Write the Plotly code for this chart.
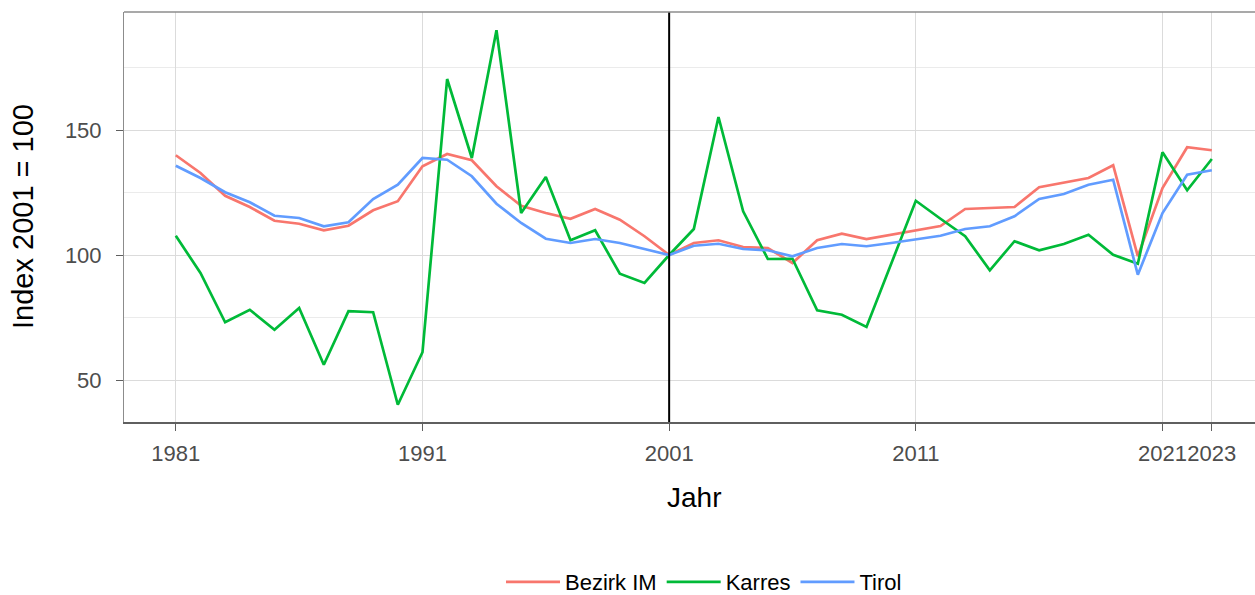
import plotly.graph_objects as go

years = list(range(1981, 2024))

bezirk_im = [139.9, 132.8, 123.7, 119.2, 113.7, 112.5, 109.9, 111.7, 117.9, 121.5,
             135.5, 140.4, 137.9, 127.5, 119.7, 116.8, 114.5, 118.4, 114.1, 107.5,
             100.0, 104.8, 105.9, 103.2, 102.8, 96.8, 105.9, 108.5, 106.4, 108.1,
             110.1, 111.6, 118.4, 118.8, 119.2, 127.1, 128.8, 130.8, 135.9, 99.5,
             126.8, 143.1, 141.9]

karres = [107.7, 92.8, 73.1, 78.1, 70.1, 78.8, 56.1, 77.5, 77.1, 40.1,
          61.1, 170.4, 138.8, 189.9, 116.8, 131.2, 105.9, 109.9, 92.5, 88.8,
          100.0, 110.4, 155.2, 117.5, 98.4, 98.5, 77.9, 76.1, 71.2, 96.8,
          121.7, 114.5, 107.5, 93.9, 105.5, 101.9, 104.4, 108.1, 100.1, 96.5,
          141.1, 125.9, 138.4]

tirol = [135.7, 130.8, 125.1, 121.1, 115.7, 114.8, 111.5, 113.1, 122.4, 128.1,
         138.8, 138.1, 131.5, 120.5, 112.8, 106.5, 104.8, 106.4, 104.8, 102.4,
         100.0, 103.7, 104.5, 102.4, 101.9, 99.5, 102.8, 104.4, 103.5, 104.8,
         106.4, 107.7, 110.4, 111.5, 115.5, 122.4, 124.4, 128.1, 130.1, 92.1,
         116.8, 132.1, 133.9]

series_names = ["Bezirk IM", "Karres", "Tirol"]
series_colors = ["#F8766D", "#00BA38", "#619CFF"]
x_ticks = [1981, 1991, 2001, 2011, 2021, 2023]
y_ticks = [50, 100, 150]
y_minor = [75, 125, 175]
ref_year = 2001
x_title = "Jahr"
y_title = "Index 2001 = 100"

W, H = 1255, 595
ML, MR, MT, MB = 124, 0, 12, 173
PW, PH = W - ML - MR, H - MT - MB

fig = go.Figure()
for name, vals, col in zip(series_names, [bezirk_im, karres, tirol], series_colors):
    fig.add_trace(go.Scatter(x=years, y=vals, mode="lines", name=name,
                             line=dict(color=col, width=2.7)))

fig.add_vline(x=ref_year, line=dict(color="black", width=2))

font_family = "Arial, Liberation Sans, sans-serif"

fig.update_layout(
    width=W, height=H,
    margin=dict(l=ML, r=MR, t=MT, b=MB, autoexpand=False),
    paper_bgcolor="white", plot_bgcolor="white",
    font=dict(family=font_family, color="#4D4D4D"),
    showlegend=True,
    legend=dict(orientation="h", x=(704 - ML) / PW, xanchor="center",
                y=(MT + PH - 582) / PH, yanchor="middle",
                font=dict(size=22, color="black", family=font_family),
                itemwidth=54, traceorder="normal"),
    xaxis=dict(
        range=[1978.9, 2024.75], tickmode="array", tickvals=x_ticks,
        ticktext=[str(v) for v in x_ticks], tickangle=0,
        showgrid=True, gridcolor="#DBDBDB", gridwidth=1,
        zeroline=False, showline=True, linecolor="#5F5F5F", linewidth=2,
        ticks="outside", ticklen=7, tickcolor="#5F5F5F", tickwidth=1,
        ticklabelstandoff=4,
        tickfont=dict(size=22, color="#4D4D4D"),
        automargin=False,
    ),
    yaxis=dict(
        range=[33.2, 197.2], tickmode="array", tickvals=y_ticks,
        showgrid=True, gridcolor="#DBDBDB", gridwidth=1,
        minor=dict(tickvals=y_minor, showgrid=True, gridcolor="#EBEBEB", gridwidth=1, ticks=""),
        zeroline=False, showline=True, linecolor="#8C8C8C", linewidth=1,
        ticks="outside", ticklen=7, tickcolor="#5F5F5F", tickwidth=1,
        ticklabelstandoff=10,
        tickfont=dict(size=22, color="#4D4D4D"),
        automargin=False,
    ),
    annotations=[
        dict(text=x_title, xref="paper", yref="paper", x=(694 - ML) / PW,
             y=(MT + PH - 497) / PH, xanchor="center", yanchor="middle",
             showarrow=False, font=dict(size=28, color="black", family=font_family)),
        dict(text=y_title, xref="paper", yref="paper", x=(23 - ML) / PW,
             y=0.5, xanchor="center", yanchor="middle", textangle=-90,
             showarrow=False, font=dict(size=29, color="black", family=font_family)),
    ],
)

# top panel border
fig.add_shape(type="line", xref="paper", yref="paper", x0=0, x1=1, y0=1, y1=1,
              line=dict(color="#8C8C8C", width=1.5))

fig.write_html("out.html", config={"displayModeBar": False},
               post_script="document.body.style.margin='0px';document.body.style.overflow='hidden';")
